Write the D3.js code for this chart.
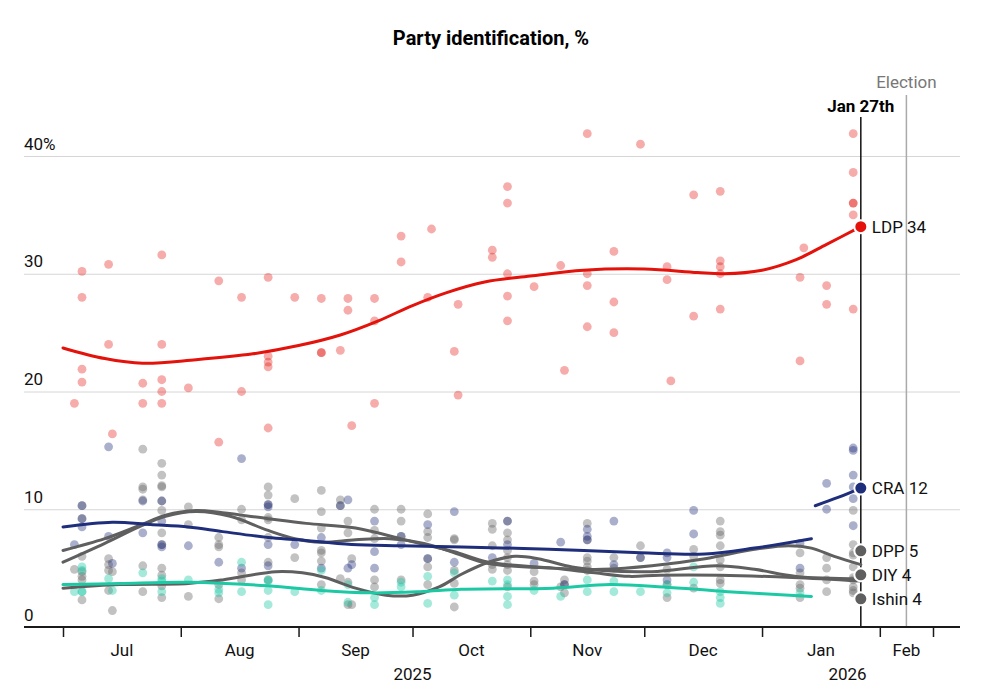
<!DOCTYPE html>
<html>
<head>
<meta charset="utf-8">
<script src="https://cdn.jsdelivr.net/npm/d3@7"></script>
<style>
  body { margin: 0; background: #fff; }
  svg { font-family: Roboto, "Liberation Sans", sans-serif; }
</style>
</head>
<body>
<script>
//------------------ Data -----------------------------------------

// poll results: [fieldwork date, [values...]]
var ldpPolls = [
  ["2025-07-04", [19.0]], ["2025-07-06", [30.2, 28.0, 21.9, 20.8]], ["2025-07-13", [30.8, 24.0]],
  ["2025-07-14", [16.4]], ["2025-07-22", [20.7, 19.0]], ["2025-07-27", [31.6, 24.0, 21.0, 20.0, 19.0]],
  ["2025-08-03", [20.3]], ["2025-08-11", [29.4, 15.7]], ["2025-08-17", [28.0, 20.0]],
  ["2025-08-24", [29.7, 23.0, 22.5, 22.1, 16.9]], ["2025-08-31", [28.0]], ["2025-09-07", [27.9, 23.3, 23.3]],
  ["2025-09-12", [23.5]], ["2025-09-14", [27.9, 26.9]], ["2025-09-15", [17.1]],
  ["2025-09-21", [27.9, 26.0, 19.0]], ["2025-09-28", [33.2, 31.0]], ["2025-10-05", [28.0]],
  ["2025-10-06", [33.8]], ["2025-10-12", [23.4]], ["2025-10-13", [27.4, 19.7]],
  ["2025-10-22", [32.0, 31.4]], ["2025-10-26", [37.4, 36.0, 30.0, 28.1, 26.0]], ["2025-11-02", [28.9]],
  ["2025-11-09", [30.7]], ["2025-11-10", [21.8]], ["2025-11-16", [41.9, 30.0, 29.0, 25.5]],
  ["2025-11-23", [31.9, 27.6, 25.0]], ["2025-11-30", [41.0]], ["2025-12-07", [30.6, 29.5]],
  ["2025-12-08", [20.9]], ["2025-12-14", [36.7, 26.4]], ["2025-12-21", [37.0, 31.1, 30.6, 30.0, 27.0]],
  ["2026-01-11", [29.7, 22.6]], ["2026-01-12", [32.2]], ["2026-01-18", [29.0, 27.4]],
  ["2026-01-25", [41.9, 38.6, 36.0, 36.0, 35.0, 27.0]]
];

// CDP until mid-January, CRA afterwards (same colour)
var craPolls = [
  ["2025-07-04", [7.0]], ["2025-07-06", [10.3, 9.2, 8.5]], ["2025-07-13", [15.3, 7.7]],
  ["2025-07-14", [5.4]], ["2025-07-22", [10.7, 8.0]], ["2025-07-27", [10.7, 9.0, 7.0, 6.8]],
  ["2025-08-03", [6.9]], ["2025-08-11", [5.5]], ["2025-08-17", [14.3, 5.0]],
  ["2025-08-24", [10.4, 10.2, 7.0, 5.2]], ["2025-08-31", [7.0]], ["2025-09-07", [7.6, 5.0]],
  ["2025-09-12", [10.3]], ["2025-09-14", [10.8, 5.0]], ["2025-09-15", [5.3]],
  ["2025-09-21", [9.0, 6.4, 5.0]], ["2025-09-28", [7.7, 7.0]], ["2025-10-05", [8.7, 5.8]],
  ["2025-10-12", [9.8, 5.5]], ["2025-10-22", [5.9]], ["2025-10-26", [9.0, 7.0]],
  ["2025-11-02", [5.4]], ["2025-11-09", [7.2]], ["2025-11-10", [3.6]],
  ["2025-11-16", [8.3, 7.7, 7.4]], ["2025-11-23", [9.0, 5.3]], ["2025-11-30", [5.9]],
  ["2025-12-07", [6.3, 5.9, 4.0]], ["2025-12-14", [9.9, 7.9]], ["2026-01-11", [7.1, 5.0]],
  ["2026-01-18", [12.2, 10.0]], ["2026-01-25", [15.2, 15.0, 12.9, 11.9, 10.9, 8.6]]
];

// DPP, DIY and Ishin (all grey)
var minorPolls = [
  ["2025-07-04", [4.9]], ["2025-07-06", [10.3, 9.2, 6.0, 4.7, 4.3, 4.0, 2.3]],
  ["2025-07-13", [5.8, 5.3, 4.8, 3.1]], ["2025-07-14", [4.7, 1.4]],
  ["2025-07-22", [15.1, 11.9, 11.7, 10.8, 5.2, 3.0]],
  ["2025-07-27", [13.9, 12.9, 12.0, 11.9, 10.7, 9.9, 8.0, 7.0, 5.0, 4.4, 3.5, 2.5]],
  ["2025-08-03", [10.2, 8.7, 2.6]], ["2025-08-11", [7.6, 7.0, 6.8, 3.6, 2.4]],
  ["2025-08-17", [10.0, 9.1, 4.6, 4.0]], ["2025-08-24", [11.9, 11.2, 10.4, 9.3, 9.1, 7.6, 5.5, 4.0]],
  ["2025-08-31", [10.9, 5.9]], ["2025-09-07", [11.6, 9.8, 8.4, 6.5, 6.3, 5.6, 3.6]],
  ["2025-09-12", [10.8, 10.3, 4.1]], ["2025-09-14", [9.0, 8.0, 3.8, 1.9]], ["2025-09-15", [5.8, 1.9]],
  ["2025-09-21", [10.0, 8.2, 7.5, 4.0, 3.4]], ["2025-09-28", [10.0, 9.0, 7.7, 4.0]],
  ["2025-10-05", [9.6, 8.1, 7.6, 5.8, 5.1, 3.6]], ["2025-10-12", [7.5, 7.4, 4.8, 3.7, 1.7]],
  ["2025-10-22", [8.8, 8.3, 6.9, 5.3, 4.9]], ["2025-10-26", [9.0, 8.0, 7.4, 6.5, 5.9, 5.3, 4.8, 3.4]],
  ["2025-11-02", [4.7, 3.9, 3.6]], ["2025-11-09", [3.4]], ["2025-11-10", [4.0, 3.6, 2.9]],
  ["2025-11-16", [8.8, 7.4, 5.9, 5.6, 5.1, 4.8]], ["2025-11-23", [5.9, 5.0]], ["2025-11-30", [6.9, 5.9]],
  ["2025-12-07", [4.9, 3.6, 2.5]], ["2025-12-14", [6.6, 6.0, 3.3]],
  ["2025-12-21", [9.0, 8.1, 7.8, 6.9, 5.7, 5.1, 4.0, 3.7]], ["2026-01-11", [6.3, 4.6, 3.6, 3.3, 2.5]],
  ["2026-01-18", [5.9, 5.0, 4.0, 3.0]], ["2026-01-25", [9.9, 7.0, 6.3, 6.1, 5.1, 4.2, 4.0, 3.4, 3.1, 2.9]]
];

// Komeito (teal)
var komeitoPolls = [
  ["2025-07-04", [3.0]], ["2025-07-06", [5.1, 4.8, 3.0, 3.0]], ["2025-07-13", [4.1]],
  ["2025-07-14", [3.1]], ["2025-07-22", [4.6]], ["2025-07-27", [4.1, 3.9, 3.0]],
  ["2025-08-03", [4.0]], ["2025-08-11", [3.2, 2.9]], ["2025-08-17", [5.5, 3.0]],
  ["2025-08-24", [4.0, 3.9, 3.1, 1.9]], ["2025-08-31", [3.0]], ["2025-09-07", [4.8, 3.1]],
  ["2025-09-14", [3.6, 2.1]], ["2025-09-21", [2.5, 1.9]], ["2025-09-28", [3.8, 3.4]],
  ["2025-10-05", [4.3, 2.0]], ["2025-10-12", [4.6, 2.7]], ["2025-10-22", [3.9]],
  ["2025-10-26", [4.0, 3.6, 2.6, 1.9]], ["2025-11-02", [3.1]], ["2025-11-09", [2.6]],
  ["2025-11-16", [4.0, 3.0]], ["2025-11-23", [3.9, 3.0]], ["2025-11-30", [3.0]],
  ["2025-12-07", [3.6, 2.9]], ["2025-12-14", [5.1, 3.8]], ["2025-12-21", [3.0, 2.5, 2.0]],
  ["2026-01-11", [2.9]]
];

// smoothed trends
var ldpTrend = [
  ["2025-07-01", 23.7], ["2025-07-12", 22.8], ["2025-07-22", 22.4], ["2025-08-05", 22.7],
  ["2025-08-20", 23.2], ["2025-09-01", 23.9], ["2025-09-12", 24.8], ["2025-09-22", 26.0],
  ["2025-10-01", 27.3], ["2025-10-10", 28.4], ["2025-10-20", 29.3], ["2025-11-01", 29.8],
  ["2025-11-15", 30.3], ["2025-12-01", 30.4], ["2025-12-15", 30.1], ["2025-12-22", 30.0],
  ["2026-01-01", 30.3], ["2026-01-10", 31.2], ["2026-01-18", 32.5], ["2026-01-27", 34.0]
];
var cdpTrend = [
  ["2025-07-01", 8.5], ["2025-07-14", 8.9], ["2025-07-24", 8.7], ["2025-08-03", 8.5],
  ["2025-08-12", 8.1], ["2025-08-24", 7.6], ["2025-09-01", 7.4], ["2025-09-15", 7.0],
  ["2025-09-28", 6.9], ["2025-10-14", 6.8], ["2025-11-06", 6.6], ["2025-11-30", 6.3],
  ["2025-12-17", 6.2], ["2025-12-30", 6.7], ["2026-01-14", 7.5]
];
var craTrend = [["2026-01-15", 10.3], ["2026-01-21", 11.0], ["2026-01-27", 11.8]];
var komeitoTrend = [
  ["2025-07-01", 3.6], ["2025-07-16", 3.7], ["2025-08-03", 3.8], ["2025-08-24", 3.5],
  ["2025-09-07", 3.1], ["2025-09-20", 2.9], ["2025-10-03", 3.0], ["2025-10-14", 3.2],
  ["2025-11-07", 3.3], ["2025-11-22", 3.6], ["2025-12-06", 3.4], ["2025-12-23", 3.0],
  ["2026-01-14", 2.6]
];
var dppTrend = [
  ["2025-07-01", 5.5], ["2025-07-12", 7.1], ["2025-07-21", 8.5], ["2025-07-28", 9.4],
  ["2025-08-05", 9.8], ["2025-08-14", 9.4], ["2025-08-24", 8.2], ["2025-08-31", 7.5],
  ["2025-09-07", 7.2], ["2025-09-16", 7.4], ["2025-09-25", 7.5], ["2025-10-04", 7.1],
  ["2025-10-12", 6.3], ["2025-10-21", 5.4], ["2025-11-07", 5.0], ["2025-11-20", 4.9],
  ["2025-12-03", 5.2], ["2025-12-17", 5.8], ["2025-12-30", 6.6], ["2026-01-08", 6.9],
  ["2026-01-14", 6.7], ["2026-01-20", 6.0], ["2026-01-27", 5.3]
];
var diyTrend = [
  ["2025-07-01", 3.3], ["2025-07-16", 3.6], ["2025-08-03", 3.7], ["2025-08-12", 4.0],
  ["2025-08-26", 4.7], ["2025-09-02", 4.6], ["2025-09-08", 4.2], ["2025-09-16", 3.3],
  ["2025-09-24", 2.7], ["2025-10-01", 2.7], ["2025-10-08", 3.4], ["2025-10-14", 4.5],
  ["2025-10-21", 5.5], ["2025-10-28", 6.0], ["2025-11-03", 5.8], ["2025-11-12", 5.1],
  ["2025-11-20", 4.8], ["2025-12-03", 4.7], ["2025-12-20", 5.2], ["2025-12-30", 4.9],
  ["2026-01-10", 4.3], ["2026-01-27", 4.1]
];
var ishinTrend = [
  ["2025-07-01", 6.5], ["2025-07-12", 7.5], ["2025-07-21", 8.6], ["2025-07-28", 9.5],
  ["2025-08-05", 9.9], ["2025-08-12", 9.7], ["2025-08-24", 9.2], ["2025-09-03", 8.8],
  ["2025-09-16", 8.4], ["2025-09-29", 7.4], ["2025-10-08", 6.7], ["2025-10-12", 6.4],
  ["2025-10-21", 5.5], ["2025-11-07", 5.0], ["2025-11-18", 4.6], ["2025-11-27", 4.3],
  ["2025-12-05", 4.4], ["2025-12-21", 4.4], ["2026-01-09", 4.2], ["2026-01-27", 3.9]
];

var yTicks = [0, 10, 20, 30, 40];
var monthStarts = ["2025-07-01", "2025-08-01", "2025-09-01", "2025-10-01", "2025-11-01",
                   "2025-12-01", "2026-01-01", "2026-02-01"];
var domainDates = ["2025-07-01", "2026-02-15"];
var latestDate = "2026-01-27", electionDate = "2026-02-08";

//------------------ Setup ---------------------------------------

var W = 982, H = 698;
var parse = d3.timeParse("%Y-%m-%d");
var fmtMonth = d3.timeFormat("%b");

var red = "#e3120b", navy = "#1f2e7a", grey = "#5f5f5f", teal = "#1dc9a4";

var svg = d3.select("body").append("svg")
    .attr("width", W).attr("height", H);

var x = d3.scaleTime().domain(domainDates.map(parse)).range([63, 933]);
var y = d3.scaleLinear().domain([0, 40]).range([627, 156]);

// title
svg.append("text")
    .attr("x", W / 2).attr("y", 45)
    .attr("text-anchor", "middle")
    .attr("font-size", 20).attr("font-weight", "bold")
    .text("Party identification, %");

//------------------ Gridlines and y labels -----------------------

var yAxis = svg.append("g")
    .attr("transform", "translate(24,0)")
    .call(d3.axisRight(y).tickValues(yTicks).tickSize(936)
        .tickFormat(function(d) { return d === 40 ? d + "%" : d; }));
yAxis.select(".domain").remove();
yAxis.selectAll(".tick line").attr("stroke", "#d6d6d6")
    .attr("stroke-opacity", function(d) { return d === 0 ? 0 : 1; });
yAxis.selectAll(".tick text")
    .attr("x", 0).attr("dy", -7)
    .attr("text-anchor", "start")
    .attr("font-size", 17).attr("fill", "#111")
    .attr("font-family", "Roboto, sans-serif");

//------------------ Reference lines ------------------------------

svg.append("line")
    .attr("x1", x(parse(electionDate))).attr("x2", x(parse(electionDate)))
    .attr("y1", 95).attr("y2", y(0))
    .attr("stroke", "#aaa").attr("stroke-width", 1.5);
svg.append("text")
    .attr("x", x(parse(electionDate))).attr("y", 88)
    .attr("text-anchor", "middle").attr("font-size", 17).attr("fill", "#777")
    .text("Election");

svg.append("line")
    .attr("x1", x(parse(latestDate))).attr("x2", x(parse(latestDate)))
    .attr("y1", 117).attr("y2", y(0))
    .attr("stroke", "#111").attr("stroke-width", 1.5);
svg.append("text")
    .attr("x", x(parse(latestDate))).attr("y", 112)
    .attr("text-anchor", "middle").attr("font-size", 17).attr("font-weight", "bold")
    .text("Jan 27th");

//------------------ Poll dots ------------------------------------

function flatten(rows) {
  var out = [];
  rows.forEach(function(r) { r[1].forEach(function(v) { out.push({ date: parse(r[0]), value: v }); }); });
  return out;
}

function dots(rows, colour, opacity) {
  svg.append("g").selectAll("circle")
      .data(flatten(rows)).enter().append("circle")
      .attr("cx", function(d) { return x(d.date); })
      .attr("cy", function(d) { return y(d.value); })
      .attr("r", 4.4)
      .attr("fill", colour).attr("fill-opacity", opacity);
}

dots(ldpPolls, red, 0.35);
dots(minorPolls, "#666", 0.4);
dots(craPolls, navy, 0.38);
dots(komeitoPolls, teal, 0.4);

//------------------ Trend lines ----------------------------------

var line = d3.line()
    .x(function(d) { return x(parse(d[0])); })
    .y(function(d) { return y(d[1]); })
    .curve(d3.curveCatmullRom.alpha(0.5));

function trend(data, colour) {
  svg.append("path").datum(data)
      .attr("d", line)
      .attr("fill", "none").attr("stroke", colour)
      .attr("stroke-width", 3).attr("stroke-linecap", "round");
}

trend(ishinTrend, grey);
trend(diyTrend, grey);
trend(dppTrend, grey);
trend(komeitoTrend, teal);
trend(cdpTrend, navy);
trend(craTrend, navy);
trend(ldpTrend, red);

//------------------ x axis ---------------------------------------

svg.append("line")
    .attr("x1", 24).attr("x2", 960)
    .attr("y1", y(0)).attr("y2", y(0))
    .attr("stroke", "#1a1a1a").attr("stroke-width", 2);

var xAxis = svg.append("g")
    .attr("transform", "translate(0," + y(0) + ")")
    .call(d3.axisBottom(x)
        .tickValues(monthStarts.map(parse).concat([parse(domainDates[1])]))
        .tickSize(10).tickFormat(""));
xAxis.select(".domain").remove();
xAxis.selectAll(".tick line").attr("stroke", "#1a1a1a").attr("stroke-width", 1.5);

// month labels centred between ticks
var bounds = monthStarts.map(parse).concat([parse(domainDates[1])]);
svg.append("g").selectAll("text")
    .data(d3.pairs(bounds)).enter().append("text")
    .attr("x", function(d) { return (x(d[0]) + x(d[1])) / 2; })
    .attr("y", 656)
    .attr("text-anchor", "middle").attr("font-size", 17).attr("fill", "#111")
    .text(function(d) { return fmtMonth(d[0]); });

// year labels centred on their part of the axis
var years = [[parse(domainDates[0]), parse("2026-01-01"), "2025"],
             [parse("2026-01-01"), parse(domainDates[1]), "2026"]];
svg.append("g").selectAll("text")
    .data(years).enter().append("text")
    .attr("x", function(d) { return (x(d[0]) + x(d[1])) / 2; })
    .attr("y", 680)
    .attr("text-anchor", "middle").attr("font-size", 17).attr("fill", "#111")
    .text(function(d) { return d[2]; });

//------------------ End labels -----------------------------------

var ends = [
  { name: "LDP", data: ldpTrend, colour: red },
  { name: "CRA", data: craTrend, colour: navy },
  { name: "DPP", data: dppTrend, colour: grey },
  { name: "DIY", data: diyTrend, colour: grey },
  { name: "Ishin", data: ishinTrend, colour: grey }
];
ends.forEach(function(e) {
  var last = e.data[e.data.length - 1];
  e.value = last[1];
  e.y = y(last[1]);
});

// push labels apart, keeping each crowded group centred on its mean
function dodge(items, gap) {
  items.sort(function(a, b) { return a.y - b.y; });
  var groups = items.map(function(d) { return [d]; });
  var merged = true;
  while (merged) {
    merged = false;
    var tops = groups.map(function(g) { return d3.mean(g, function(m) { return m.y; }) - (g.length - 1) * gap / 2; });
    for (var i = 1; i < groups.length; i++) {
      if (tops[i] < tops[i - 1] + groups[i - 1].length * gap) {
        groups[i - 1] = groups[i - 1].concat(groups[i]);
        groups.splice(i, 1);
        merged = true;
        break;
      }
    }
  }
  groups.forEach(function(g) {
    var top = d3.mean(g, function(m) { return m.y; }) - (g.length - 1) * gap / 2;
    g.forEach(function(m, i) { m.ly = top + i * gap; });
  });
}
dodge(ends, 24);

var endG = svg.append("g").selectAll("g")
    .data(ends).enter().append("g")
    .attr("transform", function(d) { return "translate(" + x(parse(latestDate)) + "," + d.ly + ")"; });

endG.append("circle")
    .attr("r", 6.5)
    .attr("fill", function(d) { return d.colour; })
    .attr("stroke", "#fff").attr("stroke-width", 2);

endG.append("text")
    .attr("x", 11).attr("dy", "0.35em")
    .attr("font-size", 17).attr("fill", "#111")
    .text(function(d) { return d.name + " " + Math.round(d.value); });
</script>
</body>
</html>
